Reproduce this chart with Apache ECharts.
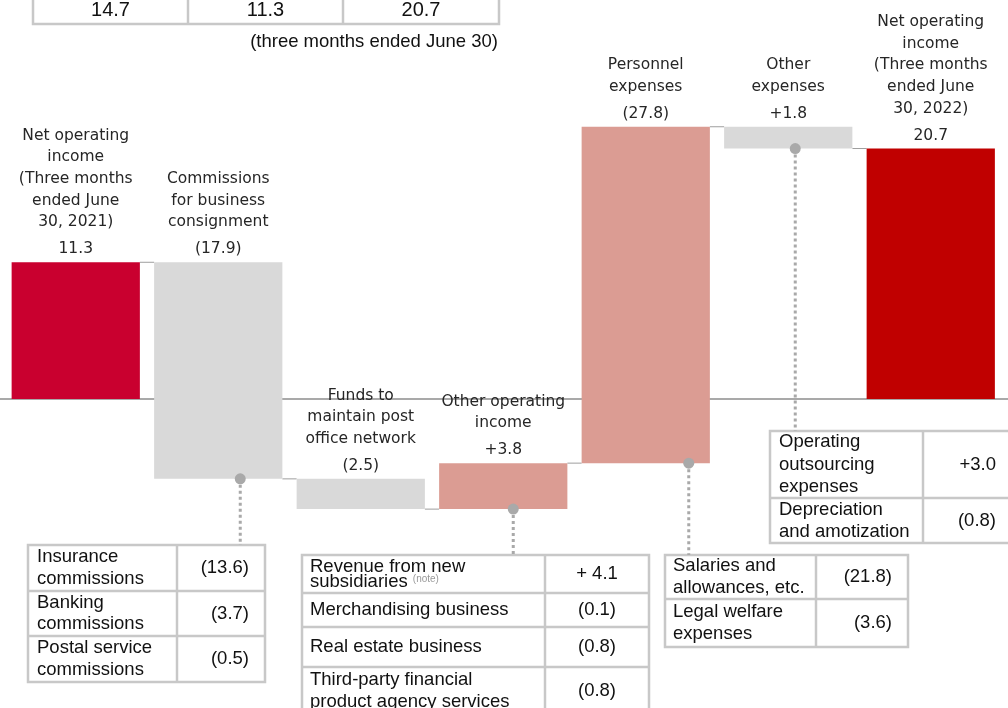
<!DOCTYPE html>
<html>
<head>
<meta charset="utf-8">
<script src="https://cdn.jsdelivr.net/npm/echarts@6.0.0/dist/echarts.min.js"></script>
<style>
  html, body { margin: 0; padding: 0; background: #ffffff; }
  #chart { width: 1008px; height: 708px; }
</style>
</head>
<body>
<div id="chart"></div>
<script>
// ---- data -------------------------------------------------------------
const categories = [
  ['Net operating', 'income', '(Three months', 'ended June', '30, 2021)'],
  ['Commissions', 'for business', 'consignment'],
  ['Funds to', 'maintain post', 'office network'],
  ['Other operating', 'income'],
  ['Personnel', 'expenses'],
  ['Other', 'expenses'],
  ['Net operating', 'income', '(Three months', 'ended June', '30, 2022)']
];
const startValue = 11.3;
const endValue = 20.7;
// change of each bridge item as reported (expense items: change in the expense)
const changeValues = [-17.9, -2.5, 3.8, -27.8, 1.8];
const isExpense = [false, false, false, true, true];

const headerValues = [14.7, 11.3, 20.7];
const headerNote = '(three months ended June 30)';

const consignmentItems = ['Insurance\ncommissions', 'Banking\ncommissions', 'Postal service\ncommissions'];
const consignmentValues = [-13.6, -3.7, -0.5];

const otherIncomeItems = ['Revenue from new\nsubsidiaries', 'Merchandising business', 'Real estate business', 'Third-party financial\nproduct agency services'];
const otherIncomeValues = [4.1, -0.1, -0.8, -0.8];

const personnelItems = ['Salaries and\nallowances, etc.', 'Legal welfare\nexpenses'];
const personnelValues = [-21.8, -3.6];

const otherExpenseItems = ['Operating\noutsourcing\nexpenses', 'Depreciation\nand amotization'];
const otherExpenseValues = [3.0, -0.8];

// ---- derived series -----------------------------------------------------
const effects = changeValues.map((v, k) => (isExpense[k] ? -v : v));
const levels = [startValue];
effects.forEach((e, k) => levels.push(Math.round((levels[k] + e) * 10) / 10));

function fmt(v, plus) {
  return v < 0 ? '(' + Math.abs(v).toFixed(1) + ')' : (plus === undefined ? '+' : plus) + v.toFixed(1);
}

// [index, low, high, kind]  kind: 0 start total, 1 end total, 2 up, 3 down
const barData = categories.map((c, i) => {
  if (i === 0) return [0, 0, startValue, 0];
  if (i === categories.length - 1) return [i, 0, endValue, 1];
  const from = levels[i - 1], to = levels[i];
  return [i, Math.min(from, to), Math.max(from, to), to > from ? 2 : 3];
});
const barLabels = categories.map((c, i) => {
  if (i === 0) return startValue.toFixed(1);
  if (i === categories.length - 1) return endValue.toFixed(1);
  return fmt(changeValues[i - 1]);
});
const connectorData = levels.map((lv, i) => [i, lv]);

// ---- styling ------------------------------------------------------------
const BAR_COLORS = ['#C9002F', '#C00000', '#DB9C93', '#D9D9D9'];
const BAR_RATIO = 0.9;
const LABEL_FONT = '15.5px "DejaVu Sans", Verdana, sans-serif';
const LABEL_COLOR = '#262626';
const TABLE_FAMILY = '"Liberation Sans", Arial, sans-serif';
const TABLE_FONT = '18.5px ' + TABLE_FAMILY;
const TABLE_COLOR = '#111111';
const BORDER = '#C8C8C8';
const LEADER = '#A9A9A9';

// leader lines: bar index -> horizontal offset from bar centre, end y (top of its table)
const leaderLayout = {
  1: { dx: 22, endY: 545 },
  3: { dx: 10, endY: 555 },
  4: { dx: 43, endY: 555 },
  5: { dx: 7, endY: 431 }
};
const leaderData = Object.keys(leaderLayout).map(k => [Number(k), barData[k][1]]);

// ---- tables ---------------------------------------------------------------
function buildTable(cfg, labels, values, valueFmt) {
  const children = [];
  const total = cfg.rows.reduce((a, b) => a + b, 0);
  children.push({ type: 'rect', shape: { x: cfg.x, y: cfg.y, width: cfg.w, height: total },
    style: { fill: '#ffffff', stroke: BORDER, lineWidth: 2.5 } });
  children.push({ type: 'line', shape: { x1: cfg.split, y1: cfg.y, x2: cfg.split, y2: cfg.y + total },
    style: { stroke: BORDER, lineWidth: 2.5 } });
  let yy = cfg.y;
  cfg.rows.forEach((h, r) => {
    if (r > 0) {
      children.push({ type: 'line', shape: { x1: cfg.x, y1: yy, x2: cfg.x + cfg.w, y2: yy },
        style: { stroke: BORDER, lineWidth: 2.5 } });
    }
    const label = labels[r];
    const lh = (cfg.lineHeights && cfg.lineHeights[r]) || 21.5;
    const labelStyle = { x: cfg.x + cfg.padL, y: yy + h / 2, align: 'left', verticalAlign: 'middle',
      fill: TABLE_COLOR, font: TABLE_FONT, lineHeight: lh };
    if (cfg.noteRow === r) {
      const parts = label.split('\n');
      labelStyle.text = '{a|' + parts[0] + '}\n{a|' + parts[1] + ' }{n|(note)}';
      labelStyle.rich = {
        a: { font: TABLE_FONT, fill: TABLE_COLOR, lineHeight: lh },
        n: { fontSize: 10, fontFamily: TABLE_FAMILY, fill: '#9a9a9a', lineHeight: lh, verticalAlign: 'top' }
      };
    } else {
      labelStyle.text = label;
    }
    children.push({ type: 'text', style: labelStyle });
    children.push({ type: 'text', style: { x: cfg.valueX, y: yy + h / 2, text: valueFmt(values[r]),
      align: cfg.valueAlign, verticalAlign: 'middle', fill: TABLE_COLOR, font: TABLE_FONT } });
    yy += h;
  });
  return { type: 'group', children };
}

const headerCols = [33, 188, 343, 499];
const headerGroup = { type: 'group', children: [
  { type: 'rect', shape: { x: headerCols[0], y: -20, width: headerCols[3] - headerCols[0], height: 44 },
    style: { fill: '#ffffff', stroke: BORDER, lineWidth: 2.5 } },
  { type: 'line', shape: { x1: headerCols[1], y1: -20, x2: headerCols[1], y2: 24 }, style: { stroke: BORDER, lineWidth: 2.5 } },
  { type: 'line', shape: { x1: headerCols[2], y1: -20, x2: headerCols[2], y2: 24 }, style: { stroke: BORDER, lineWidth: 2.5 } }
].concat(headerValues.map((v, k) => ({
  type: 'text', style: { x: (headerCols[k] + headerCols[k + 1]) / 2, y: 10, text: v.toFixed(1),
    align: 'center', verticalAlign: 'middle', fill: TABLE_COLOR, font: '20px ' + TABLE_FAMILY }
}))).concat([{
  type: 'text', style: { x: 498, y: 42, text: headerNote, align: 'right', verticalAlign: 'middle',
    fill: TABLE_COLOR, font: TABLE_FONT }
}]) };

const tables = [
  headerGroup,
  buildTable({ x: 28, y: 545, w: 237, rows: [46, 45, 46], split: 177, padL: 9, valueX: 249, valueAlign: 'right' },
    consignmentItems, consignmentValues, v => fmt(v)),
  buildTable({ x: 302, y: 555, w: 347, rows: [38, 34, 40, 48], split: 545, padL: 8, valueX: 597, valueAlign: 'center',
    lineHeights: [15, 21.5, 21.5, 21.5], noteRow: 0 },
    otherIncomeItems, otherIncomeValues, v => fmt(v, '+ ')),
  buildTable({ x: 665, y: 555, w: 243, rows: [44, 48], split: 816, padL: 8, valueX: 892, valueAlign: 'right' },
    personnelItems, personnelValues, v => fmt(v)),
  buildTable({ x: 770, y: 431, w: 250, rows: [67, 45], split: 923, padL: 9, valueX: 996, valueAlign: 'right',
    lineHeights: [22.5, 22] },
    otherExpenseItems, otherExpenseValues, v => fmt(v))
];

// ---- chart ------------------------------------------------------------------
const chart = echarts.init(document.getElementById('chart'), null, { renderer: 'canvas' });

chart.setOption({
  animation: false,
  backgroundColor: '#ffffff',
  grid: { left: 4.5, right: 6, top: 96.5, bottom: 6.5 },
  xAxis: { type: 'category', data: categories.map((c, i) => String(i)), show: false },
  yAxis: { type: 'value', min: -25, max: 25, show: false },
  graphic: tables,
  series: [
    {
      // zero line across the full width
      type: 'custom', z: 1, clip: false, silent: true,
      data: [[0, 0]],
      renderItem: (params, api) => {
        const y = api.coord([0, 0])[1];
        return { type: 'line', shape: { x1: 0, y1: y, x2: api.getWidth(), y2: y },
          style: { stroke: '#8C8C8C', lineWidth: 1.5 } };
      }
    },
    {
      // step connectors between neighbouring bars
      type: 'custom', z: 2, clip: false, silent: true,
      data: connectorData.slice(0, categories.length - 1),
      renderItem: (params, api) => {
        const i = api.value(0), lv = api.value(1);
        const bw = api.size([1, 0])[0] * BAR_RATIO;
        const p = api.coord([i, lv]), q = api.coord([i + 1, lv]);
        return { type: 'line', shape: { x1: p[0] + bw / 2, y1: p[1], x2: q[0] - bw / 2, y2: p[1] },
          style: { stroke: '#9E9E9E', lineWidth: 1 } };
      }
    },
    {
      // waterfall bars with their labels
      type: 'custom', z: 3, clip: false, silent: true,
      data: barData,
      renderItem: (params, api) => {
        const i = api.value(0), lo = api.value(1), hi = api.value(2), kind = api.value(3);
        const top = api.coord([i, hi]), bottom = api.coord([i, lo]);
        const bw = api.size([1, 0])[0] * BAR_RATIO;
        return {
          type: 'group',
          children: [
            { type: 'rect', shape: { x: top[0] - bw / 2, y: top[1], width: bw, height: bottom[1] - top[1] },
              style: { fill: BAR_COLORS[kind] } },
            { type: 'text', style: { x: top[0], y: top[1] - 13, text: barLabels[i], align: 'center',
              verticalAlign: 'middle', font: LABEL_FONT, fill: LABEL_COLOR } },
            { type: 'text', style: { x: top[0], y: top[1] - 29, text: categories[i].join('\n'), align: 'center',
              verticalAlign: 'bottom', font: LABEL_FONT, fill: LABEL_COLOR, lineHeight: 21.7 } }
          ]
        };
      }
    },
    {
      // dotted leaders from the bars down to their breakdown tables
      type: 'custom', z: 4, clip: false, silent: true,
      data: leaderData,
      renderItem: (params, api) => {
        const i = api.value(0), lo = api.value(1);
        const p = api.coord([i, lo]);
        const lay = leaderLayout[i];
        const x = p[0] + lay.dx;
        return {
          type: 'group',
          children: [
            { type: 'line', shape: { x1: x, y1: p[1], x2: x, y2: lay.endY },
              style: { stroke: LEADER, lineWidth: 3, lineDash: [3, 3] } },
            { type: 'circle', shape: { cx: x, cy: p[1], r: 5.5 }, style: { fill: LEADER } }
          ]
        };
      }
    }
  ]
});
</script>
</body>
</html>
